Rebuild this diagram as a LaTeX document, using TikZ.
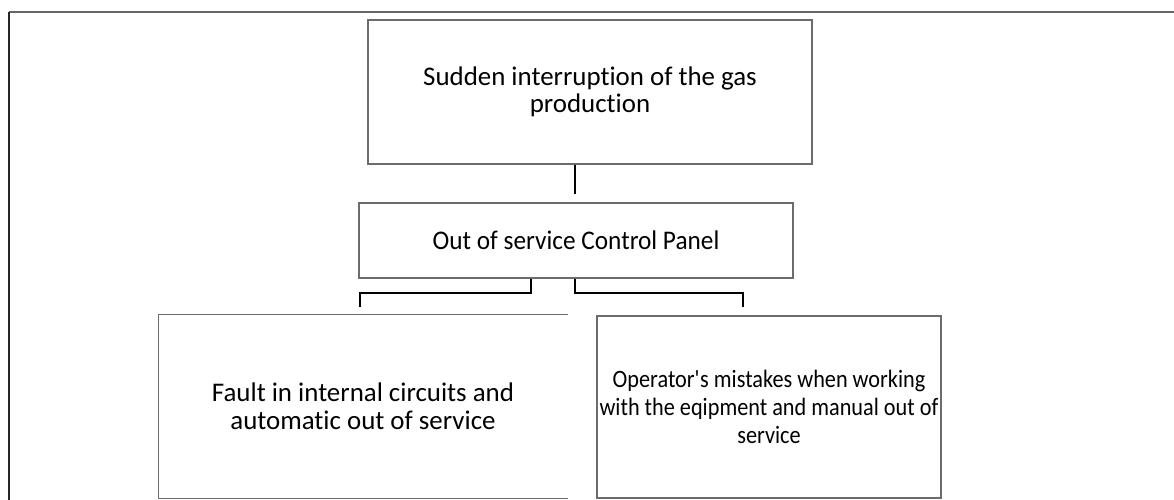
\documentclass[tikz,border=0pt]{standalone}
\usepackage{fontspec}
\setmainfont{Carlito}[Ligatures={NoCommon}]
\newfontfamily\panelfont{Carlito}[Ligatures={NoCommon},FakeStretch=0.94]
\newfontfamily\narrowfont{Carlito}[Ligatures={NoCommon},FakeStretch=0.89]
\usetikzlibrary{calc}

\begin{document}
\begin{tikzpicture}[x=1pt,y=-1pt,
	box/.style={draw=gray!85!black,line width=1.2pt,align=center,inner sep=0pt,font=\fontsize{26.9}{27.5}\selectfont},
	link/.style={draw=black,line width=2.4pt}]
	\useasboundingbox (0,0) rectangle (1174,500);
	% Page frame
	\draw[gray!80!black,line width=1.5pt] (9,12) -- (1174,12);
	\draw[black!85,line width=1.5pt] (9,12) -- (9,500);
	% Boxes
	\node[box,minimum width=444,minimum height=144] (event) at (590,92) {Sudden interruption of the gas\\production};
	\node[box,minimum width=434,minimum height=75] (panel) at (576,240.5) {\panelfont Out of service Control Panel};
	\node[box,draw=none,minimum width=408,minimum height=183] (fault) at (363,406.5) {Fault in internal circuits and\\automatic out of service};
	\draw[gray!85!black,line width=1.2pt] (fault.north east) -- (fault.north west) -- (fault.south west) -- (fault.south east);
	\node[box,minimum width=344,minimum height=182,font=\fontsize{25}{28}\narrowfont] (operator) at (769,407) {Operator\textquotesingle s mistakes when working\\with the eqipment and manual out of\\service};
	% Connectors
	\coordinate (gap) at (575,194);
	\draw[link] (event.south -| gap) -- (gap);
	\coordinate (lknee) at (531,293);
	\coordinate (lend) at (360,307);
	\draw[link] (panel.south -| lknee) -- (lknee) -- (lknee -| lend) -- (lend);
	\coordinate (rknee) at (575,293);
	\coordinate (rend) at (743,307);
	\draw[link] (panel.south -| rknee) -- (rknee) -- (rknee -| rend) -- (rend);
\end{tikzpicture}
\end{document}
